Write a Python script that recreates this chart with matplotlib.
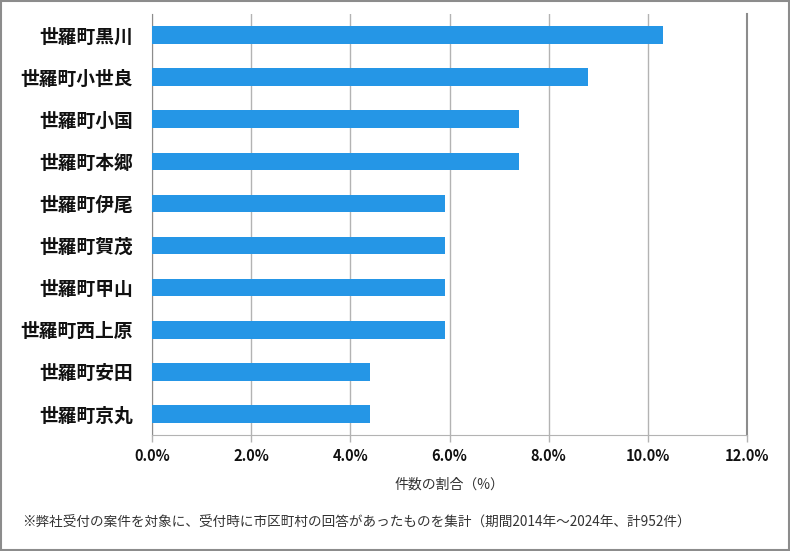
import matplotlib.pyplot as plt
from matplotlib.patches import Rectangle
from matplotlib.ticker import FuncFormatter

plt.rcParams['font.family'] = ['Noto Sans CJK JP', 'DejaVu Sans']

# === データ ===
areas = ['世羅町黒川', '世羅町小世良', '世羅町小国', '世羅町本郷', '世羅町伊尾',
         '世羅町賀茂', '世羅町甲山', '世羅町西上原', '世羅町安田', '世羅町京丸']
shares = [10.3, 8.8, 7.4, 7.4, 5.9, 5.9, 5.9, 5.9, 4.4, 4.4]
x_ticks = [0, 2, 4, 6, 8, 10, 12]

BAR_COLOR = '#2596E6'
GRID_COLOR = '#B3B3B3'
AXIS_COLOR = '#8C8C8C'

fig = plt.figure(figsize=(7.9, 5.51), dpi=100)
ax = fig.add_axes([0.1924, 0.2105, 0.7532, 0.7641])

y = list(range(len(areas)))
ax.barh(y, shares, height=0.42, color=BAR_COLOR, zorder=3)
ax.set_ylim(len(areas) - 0.5, -0.5)
ax.set_xlim(0, 12)

ax.set_xticks(x_ticks)
ax.xaxis.set_major_formatter(FuncFormatter(lambda v, p: f'{v:.1f}%'))
ax.set_yticks(y)
ax.set_yticklabels(areas, fontsize=13.5, fontweight='bold', color='#111111')
ax.tick_params(axis='y', length=0, pad=14)
ax.tick_params(axis='x', length=5, width=1, color=GRID_COLOR, pad=4,
               labelsize=10.5, labelcolor='#111111')
for lab in ax.get_xticklabels():
    lab.set_fontweight('bold')

ax.grid(axis='x', color=GRID_COLOR, linewidth=1, zorder=0)
ax.spines['top'].set_visible(False)
ax.spines['left'].set_color(AXIS_COLOR)
ax.spines['bottom'].set_color(GRID_COLOR)
ax.spines['right'].set_color(AXIS_COLOR)
ax.spines['right'].set_linewidth(1.5)

ax.set_xlabel('件数の割合（%）', fontsize=10, color='#333333', labelpad=10)

fig.text(0.028, 0.052,
         '※弊社受付の案件を対象に、受付時に市区町村の回答があったものを集計（期間2014年～2024年、計952件）',
         fontsize=9.8, color='#333333', va='center')

# 外枠
fig.patches.append(Rectangle((0.001, 0.001), 0.998, 0.998, transform=fig.transFigure,
                             fill=False, edgecolor='#8C8C8C', linewidth=1.5))

fig.savefig('out.png', dpi=100)
